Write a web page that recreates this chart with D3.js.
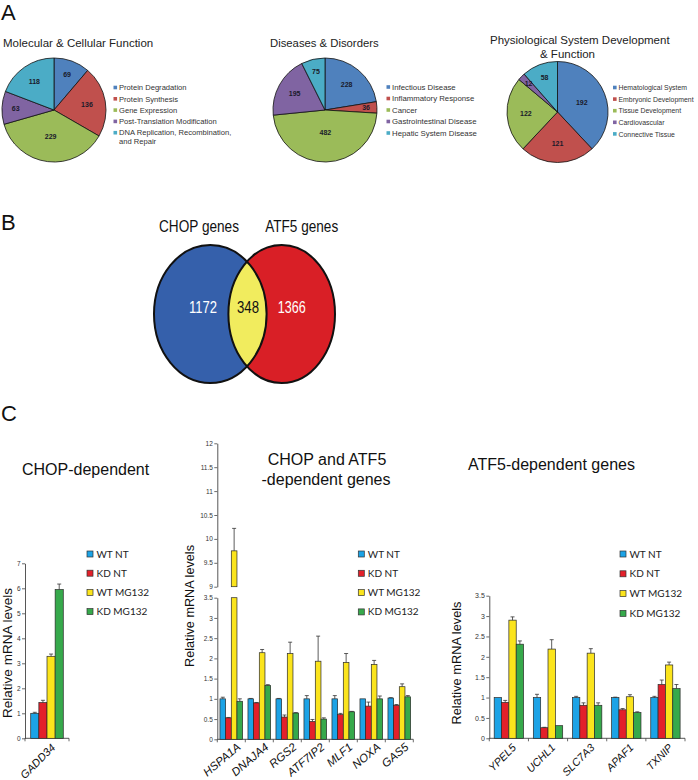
<!DOCTYPE html>
<html><head><meta charset="utf-8">
<script src="https://cdn.jsdelivr.net/npm/d3@7"></script>
<style>body{margin:0;background:#fff} svg{display:block}</style>
</head><body>
<svg id="c" width="698" height="780"></svg>
<script>
// ---------- DATA ----------
const pieColors = ["#4f81bd","#c0504d","#9bbb59","#8064a2","#4bacc6"];

const mcfTitle = ["Molecular & Cellular Function"];
const mcfLabels = ["Protein Degradation","Protein Synthesis","Gene Expression","Post-Translation Modification","DNA Replication, Recombination,\nand Repair"];
const mcfValues = [69, 136, 229, 63, 118];

const ddTitle = ["Diseases & Disorders"];
const ddLabels = ["Infectious Disease","Inflammatory Response","Cancer","Gastrointestinal Disease","Hepatic System Disease"];
const ddValues = [228, 36, 482, 195, 75];

const psdTitle = ["Physiological System Development", "& Function"];
const psdLabels = ["Hematological System","Embryonic Development","Tissue Development","Cardiovascular","Connective Tissue"];
const psdValues = [192, 121, 122, 12, 58];

const vennSets = ["CHOP genes","ATF5 genes"];
const vennCounts = [1172, 348, 1366];

const series = ["WT NT","KD NT","WT MG132","KD MG132"];
const seriesColors = ["#1ca3e6","#e3202a","#fbe41c","#36a94b"];

const chopGenes = ["GADD34"];
const chopMean = [[1.00, 1.43, 3.28, 5.95]];
const chopErr  = [[0.04, 0.09, 0.09, 0.22]];
const chopTicks = [0,1,2,3,4,5,6,7];

const bothGenes = ["HSPA1A","DNAJA4","RGS2","ATF7IP2","MLF1","NOXA","GAS5"];
const bothMean = [
  [1.00, 0.53, 9.75, 0.94],
  [1.00, 0.90, 2.14, 1.33],
  [1.00, 0.55, 2.12, 0.65],
  [1.00, 0.44, 1.93, 0.50],
  [1.00, 0.61, 1.90, 0.68],
  [1.00, 0.82, 1.85, 1.00],
  [1.02, 0.84, 1.30, 1.05]];
const bothErr = [
  [0.04, 0.01, 0.47, 0.06],
  [0.01, 0.01, 0.08, 0.02],
  [0.01, 0.05, 0.28, 0.01],
  [0.08, 0.05, 0.62, 0.03],
  [0.08, 0.03, 0.22, 0.01],
  [0.00, 0.10, 0.10, 0.07],
  [0.01, 0.02, 0.07, 0.03]];
const bothTicksLow = [0,0.5,1,1.5,2,2.5,3,3.5];
const bothTicksHigh = [9,9.5,10,10.5,11,11.5,12];

const atfGenes = ["YPEL5","UCHL1","SLC7A3","APAF1","TXNIP"];
const atfMean = [
  [1.00, 0.88, 2.90, 2.31],
  [1.00, 0.26, 2.19, 0.31],
  [1.00, 0.81, 2.09, 0.81],
  [1.00, 0.70, 1.02, 0.63],
  [1.00, 1.32, 1.80, 1.22]];
const atfErr = [
  [0.00, 0.05, 0.08, 0.08],
  [0.08, 0.01, 0.23, 0.00],
  [0.03, 0.06, 0.11, 0.06],
  [0.01, 0.03, 0.05, 0.02],
  [0.03, 0.11, 0.07, 0.10]];
const atfTicks = [0,0.5,1,1.5,2,2.5,3,3.5];

// ---------- DRAWING ----------
const svg = d3.select("#c");
const F = "'Liberation Sans', Arial, Helvetica, sans-serif";
const LF = "Lato, 'Open Sans', sans-serif";

function text(x, y, s, size, o = {}) {
  const t = svg.append("text").attr("x", x).attr("y", y).text(s)
    .attr("font-family", o.family || F).attr("font-size", size)
    .attr("fill", o.fill || "#111")
    .attr("text-anchor", o.anchor || "start");
  if (o.weight) t.attr("font-weight", o.weight);
  if (o.len) t.attr("textLength", o.len).attr("lengthAdjust", "spacingAndGlyphs");
  return t;
}

// Panel letters
text(1, 20, "A", 22);
text(1, 230, "B", 22);
text(1, 421, "C", 22);

// ---- Pies ----
function drawPie(c) {
  const g = svg.append("g").attr("transform", `translate(${c.cx},${c.cy})`);
  const arcs = d3.pie().sort(null).value(d => d)(c.values);
  const arc = d3.arc().innerRadius(0).outerRadius(c.r);
  g.selectAll("path").data(arcs).join("path")
    .attr("d", arc).attr("fill", (d, i) => pieColors[i])
    .attr("stroke", "#111").attr("stroke-width", 0.8);
  g.selectAll("text").data(arcs).join("text")
    .attr("transform", d => {
      const frac = (d.endAngle - d.startAngle) / (2 * Math.PI);
      const lr = c.r * (0.82 - 0.8 * frac);
      const m = (d.startAngle + d.endAngle) / 2;
      return `translate(${lr * Math.sin(m)},${-lr * Math.cos(m)})`;
    })
    .attr("text-anchor", "middle").attr("dy", "0.35em")
    .attr("font-family", F).attr("font-size", 7).attr("font-weight", "bold")
    .attr("fill", "#1a1a2a").text(d => d.data);
  // legend
  let y = c.ly;
  c.labels.forEach((lab, i) => {
    svg.append("rect").attr("x", c.lx).attr("y", y - 1.8).attr("width", 3.6).attr("height", 3.6)
      .attr("fill", pieColors[i]);
    lab.split("\n").forEach((line, k) => {
      text(c.lx + 5.5, y + 2.7 + k * 9, line, c.lsize, { fill: "#333" });
    });
    y += c.lstep;
  });
}

text(3, 47, mcfTitle[0], 11.5, { fill: "#222" });
drawPie({ cx: 54, cy: 110, r: 52, values: mcfValues, labels: mcfLabels, lx: 113.5, ly: 87.5, lstep: 11.3, lsize: 7.6 });

text(270, 47, ddTitle[0], 11.3, { fill: "#222" });
drawPie({ cx: 325, cy: 110, r: 52, values: ddValues, labels: ddLabels, lx: 386.5, ly: 87, lstep: 11.5, lsize: 7.8 });

text(490, 44.3, psdTitle[0], 11.5, { fill: "#222" });
text(540, 58.3, psdTitle[1], 11.5, { fill: "#222" });
drawPie({ cx: 557.5, cy: 112, r: 50.5, values: psdValues, labels: psdLabels, lx: 613, ly: 87.5, lstep: 11.6, lsize: 6.9 });

// ---- Venn ----
(function () {
  const L = { cx: 210.3, cy: 314, rx: 56.3, ry: 69 };
  const R = { cx: 281.7, cy: 314, rx: 53.3, ry: 69 };
  const defs = svg.append("defs");
  defs.append("clipPath").attr("id", "clipL").append("ellipse")
    .attr("cx", L.cx).attr("cy", L.cy).attr("rx", L.rx).attr("ry", L.ry);
  svg.append("ellipse").attr("cx", L.cx).attr("cy", L.cy).attr("rx", L.rx).attr("ry", L.ry).attr("fill", "#3560ab");
  svg.append("ellipse").attr("cx", R.cx).attr("cy", R.cy).attr("rx", R.rx).attr("ry", R.ry).attr("fill", "#d91f26");
  svg.append("ellipse").attr("cx", R.cx).attr("cy", R.cy).attr("rx", R.rx).attr("ry", R.ry)
    .attr("fill", "#f1ec5e").attr("clip-path", "url(#clipL)");
  [L, R].forEach(e => svg.append("ellipse").attr("cx", e.cx).attr("cy", e.cy).attr("rx", e.rx).attr("ry", e.ry)
    .attr("fill", "none").attr("stroke", "#111").attr("stroke-width", 2));
  text(199, 232, vennSets[0], 16.5, { anchor: "middle", len: 80 });
  text(301.7, 232, vennSets[1], 16.5, { anchor: "middle", len: 73 });
  text(203, 312.5, vennCounts[0], 17, { anchor: "middle", fill: "#fff", len: 28 });
  text(248, 312.5, vennCounts[1], 17, { anchor: "middle", fill: "#111", len: 22 });
  text(291.7, 312.5, vennCounts[2], 17, { anchor: "middle", fill: "#fff", len: 28 });
})();

// ---- Bar charts ----
function barChart(c) {
  const g = svg.append("g");
  const x = d3.scaleBand().domain(c.genes).range([c.x0, c.x1]).paddingInner(c.pad).paddingOuter(c.pad / 2);
  const xs = d3.scaleBand().domain(series).range([0, x.bandwidth()]);
  const segs = c.segments.map(s => Object.assign({}, s, { scale: d3.scaleLinear().domain(s.domain).range(s.range) }));
  const segFor = v => segs.find(s => v >= s.domain[0] && v <= s.domain[1]) || segs[segs.length - 1];

  // axes
  segs.forEach(seg => {
    const ax = g.append("g").attr("transform", `translate(${c.x0},0)`)
      .call(d3.axisLeft(seg.scale).tickValues(seg.ticks).tickSize(3).tickSizeOuter(0).tickFormat(d => String(d)));
    ax.select(".domain").attr("stroke", "#444").attr("stroke-width", 0.9);
    ax.selectAll(".tick line").attr("stroke", "#444").attr("stroke-width", 0.8);
    ax.selectAll(".tick text").attr("font-family", F).attr("font-size", c.tickSize).attr("fill", "#333").attr("x", -4.5);
  });
  g.append("line").attr("x1", c.x0).attr("x2", c.x1).attr("y1", c.y0).attr("y2", c.y0)
    .attr("stroke", "#444").attr("stroke-width", 0.9);
  d3.range(c.genes.length + 1).forEach(i => {
    const tx = c.x0 + i * x.step();
    g.append("line").attr("x1", tx).attr("x2", tx).attr("y1", c.y0).attr("y2", c.y0 + 3)
      .attr("stroke", "#444").attr("stroke-width", 0.8);
  });

  // bars
  c.genes.forEach((gene, i) => {
    series.forEach((s, j) => {
      const v = c.means[i][j];
      const bx = x(gene) + xs(s), bw = xs.bandwidth();
      segs.forEach(seg => {
        const lo = seg.domain[0], hi = Math.min(v, seg.domain[1]);
        if (hi > lo) {
          g.append("rect").attr("x", bx).attr("width", bw)
            .attr("y", seg.scale(hi)).attr("height", seg.scale(lo) - seg.scale(hi))
            .attr("fill", seriesColors[j]).attr("stroke", "#2a2a2a").attr("stroke-width", 0.7);
        }
      });
    });
  });
  // error bars
  c.genes.forEach((gene, i) => {
    series.forEach((s, j) => {
      const v = c.means[i][j], e = c.errs[i][j];
      if (e <= 0.004) return;
      const cx = x(gene) + xs(s) + xs.bandwidth() / 2;
      const seg = segFor(v);
      const yT = seg.scale(v + e), yB = seg.scale(v);
      g.append("line").attr("x1", cx).attr("x2", cx).attr("y1", yB).attr("y2", yT).attr("stroke", "#333").attr("stroke-width", 0.8);
      g.append("line").attr("x1", cx - 2).attr("x2", cx + 2).attr("y1", yT).attr("y2", yT).attr("stroke", "#333").attr("stroke-width", 0.8);
    });
  });
  // x labels
  c.genes.forEach(gene => {
    const bc = x(gene) + x.bandwidth() / 2;
    g.append("text").attr("transform", `translate(${bc + c.ldx},${c.y0 + c.ldy}) rotate(${c.angle})`)
      .attr("text-anchor", "end").attr("font-family", F).attr("font-size", c.labelSize)
      .attr("font-style", "italic").attr("fill", "#111").text(gene);
  });
  // y title
  g.append("text").attr("transform", `translate(${c.ytx},${c.yty}) rotate(-90)`)
    .attr("text-anchor", "middle").attr("dy", "0.35em").attr("font-family", F)
    .attr("font-size", c.ytSize).attr("fill", "#111").text("Relative mRNA levels");
  // legend
  series.forEach((s, j) => {
    const ly = c.ly0 + j * c.lstep;
    g.append("rect").attr("x", c.lx).attr("y", ly - 3).attr("width", 6).attr("height", 6)
      .attr("fill", seriesColors[j]).attr("stroke", "#333").attr("stroke-width", 0.7);
    g.append("text").attr("x", c.lx + 9.5).attr("y", ly + 3.5).attr("font-family", LF)
      .attr("font-size", 10).attr("fill", "#222").text(s);
  });
}

text(22, 475, "CHOP-dependent", 16);
barChart({
  genes: chopGenes, means: chopMean, errs: chopErr, x0: 25, x1: 69, y0: 738.3, pad: 0.26,
  segments: [{ domain: [0, 7], range: [738.3, 563.3], ticks: chopTicks }],
  tickSize: 6.5, ldx: 9, ldy: 10, angle: -45, labelSize: 11,
  ytx: 7, yty: 653, ytSize: 13.5, lx: 87, ly0: 554, lstep: 19.2
});

text(327, 465, "CHOP and ATF5", 16, { anchor: "middle" });
text(326, 485, "-dependent genes", 16, { anchor: "middle" });
barChart({
  genes: bothGenes, means: bothMean, errs: bothErr, x0: 217.3, x1: 413.3, y0: 739.3, pad: 0.19,
  segments: [{ domain: [0, 3.5], range: [739.3, 597.7], ticks: bothTicksLow },
             { domain: [9, 12], range: [586.7, 443.3], ticks: bothTicksHigh }],
  tickSize: 6.5, ldx: 10, ldy: 9, angle: -40, labelSize: 11.5,
  ytx: 190, yty: 606, ytSize: 12.7, lx: 358.3, ly0: 554, lstep: 19.3
});

text(468, 470, "ATF5-dependent genes", 16);
barChart({
  genes: atfGenes, means: atfMean, errs: atfErr, x0: 489.3, x1: 685, y0: 738.3, pad: 0.25,
  segments: [{ domain: [0, 3.5], range: [738.3, 595.7], ticks: atfTicks }],
  tickSize: 7, ldx: 8, ldy: 10, angle: -45, labelSize: 10.8,
  ytx: 456.7, yty: 663, ytSize: 12.8, lx: 620, ly0: 554, lstep: 19.8
});
</script>
</body></html>
